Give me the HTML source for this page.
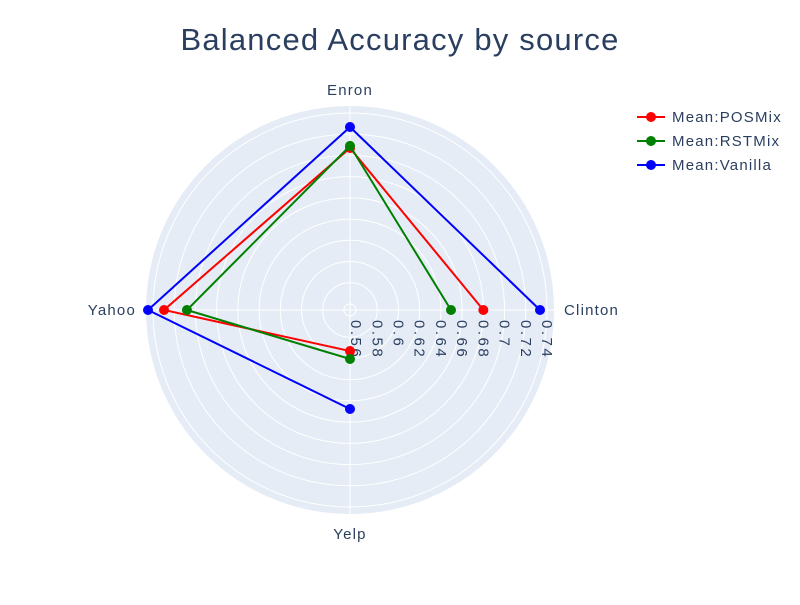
<!DOCTYPE html>
<html><head><meta charset="utf-8"><style>
body{margin:0;background:#fff;font-family:"Liberation Sans",sans-serif}
svg text{font-family:"Liberation Sans",sans-serif;fill:#2a3f5f}
</style></head><body>
<svg id="chart" width="800" height="600" xmlns="http://www.w3.org/2000/svg">
<rect width="800" height="600" fill="#fff"/>
<text x="400" y="50" font-size="31" letter-spacing="1.2" text-anchor="middle">Balanced Accuracy by source</text>
<g id="plot"></g>
<g id="legend"></g>
</svg>
<script>
const categories = ["Enron", "Clinton", "Yelp", "Yahoo"];
const seriesNames = ["Mean:POSMix", "Mean:RSTMix", "Mean:Vanilla"];
const seriesColors = ["#ff0000", "#008000", "#0000ff"];
const posmix = [0.707, 0.680, 0.593, 0.7296];
const rstmix = [0.709, 0.6495, 0.6005, 0.708];
const vanilla = [0.7268, 0.7334, 0.6476, 0.7447];
const tickValues = [0.56, 0.58, 0.60, 0.62, 0.64, 0.66, 0.68, 0.70, 0.72, 0.74];
const tickLabels = ["0.56", "0.58", "0.6", "0.62", "0.64", "0.66", "0.68", "0.7", "0.72", "0.74"];
const rMin = 0.5543, rMax = 0.7466;

const NS = "http://www.w3.org/2000/svg";
const cx = 350, cy = 310, R = 204;
function rScale(v){ return (v - rMin) / (rMax - rMin) * R; }
function angle(i){ return Math.PI/2 - i * 2*Math.PI/categories.length; }
function pt(i, v){ const r = rScale(v), a = angle(i); return [cx + r*Math.cos(a), cy - r*Math.sin(a)]; }
function mk(tag, attrs, parent){ const e = document.createElementNS(NS, tag); for (const k in attrs) e.setAttribute(k, attrs[k]); parent.appendChild(e); return e; }
const plot = document.getElementById('plot');

const bg = mk('circle', {cx, cy, r: R, fill: '#e5ecf6'}, plot);


tickValues.forEach((t, i) => {
  const g = mk('circle', {cx, cy, r: rScale(t), fill: 'none', stroke: '#fff', 'stroke-width': 1}, plot);
  
  
});
categories.forEach((c, i) => {
  const a = angle(i);
  const l = mk('line', {x1: cx, y1: cy, x2: cx + R*Math.cos(a), y2: cy - R*Math.sin(a), stroke: '#fff', 'stroke-width': 1}, plot);
  
  
  const lx = cx + (R + 10)*Math.cos(a), ly = cy - (R + 10)*Math.sin(a);
  let anchor = 'middle', dy = 5;
  if (Math.abs(Math.cos(a)) > 0.5) anchor = Math.cos(a) > 0 ? 'start' : 'end';
  else dy = Math.sin(a) > 0 ? -1 : 15;
  const tx = mk('text', {x: lx, y: ly + dy, 'font-size': 15, 'letter-spacing': 1.2, 'text-anchor': anchor}, plot);
  tx.textContent = c;
  
  
});
tickValues.forEach((t, i) => {
  const x = cx + rScale(t);
  const tx = mk('text', {x: 0, y: 0, 'font-size': 15, 'letter-spacing': 2.5, transform: `translate(${x - 5},${cy + 10}) rotate(90)`}, plot);
  tx.textContent = tickLabels[i];
  
  
});
const allSeries = [posmix, rstmix, vanilla];
const lineOrder = [2, 3, 0, 1];
allSeries.forEach((s, si) => {
  const pts = s.map((v, i) => pt(i, v));
  const p = mk('polyline', {points: lineOrder.map(k => pts[k].join(',')).join(' '), fill: 'none', stroke: seriesColors[si], 'stroke-width': 2}, plot);
  
  
  pts.forEach(q => {
    const c = mk('circle', {cx: q[0], cy: q[1], r: 5, fill: seriesColors[si]}, plot);
    
    
  });
});
const legend = document.getElementById('legend');
seriesNames.forEach((n, i) => {
  const y = 117 + i*24;
  const g = mk('g', {}, legend);
  
  
  mk('line', {x1: 637, y1: y, x2: 665, y2: y, stroke: seriesColors[i], 'stroke-width': 2}, g);
  mk('circle', {cx: 651, cy: y, r: 5, fill: seriesColors[i]}, g);
  const t = mk('text', {x: 672, y: y + 5, 'font-size': 15, 'letter-spacing': 1.2}, g);
  t.textContent = n;
});
</script>
</body></html>
